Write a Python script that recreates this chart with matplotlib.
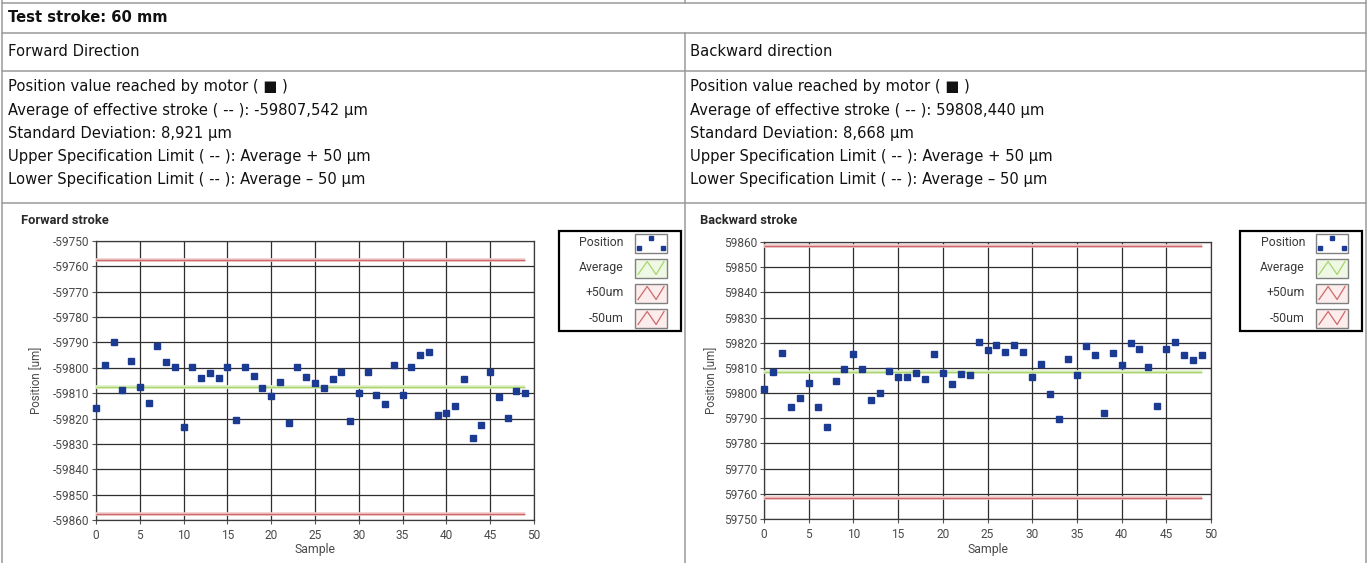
import matplotlib.pyplot as plt
from matplotlib.patches import Rectangle

plt.rcParams['axes.unicode_minus'] = False

# data
samples = list(range(50))
forward_pos = [-59816.0, -59798.8, -59790.0, -59808.6, -59797.2, -59807.7, -59813.9, -59791.3, -59797.7, -59799.5,
               -59823.2, -59799.5, -59804.0, -59802.1, -59804.2, -59799.5, -59820.5, -59799.7, -59803.3, -59807.8,
               -59811.3, -59805.4, -59821.9, -59799.7, -59803.8, -59806.0, -59807.8, -59804.6, -59801.6, -59820.8,
               -59809.9, -59801.6, -59810.6, -59814.4, -59798.9, -59810.7, -59799.5, -59794.9, -59793.9, -59818.5,
               -59817.9, -59815.2, -59804.6, -59827.5, -59822.6, -59801.6, -59811.7, -59819.6, -59809.1, -59809.9]
backward_pos = [59801.5, 59808.3, 59815.9, 59794.4, 59798.2, 59803.9, 59794.6, 59786.7, 59804.8, 59809.6,
                59815.7, 59809.6, 59797.3, 59799.9, 59808.9, 59806.2, 59806.2, 59807.9, 59805.6, 59815.5,
                59807.9, 59803.5, 59807.5, 59807.1, 59820.1, 59817.3, 59818.9, 59816.3, 59819.1, 59816.4,
                59806.2, 59811.6, 59799.8, 59789.9, 59813.6, 59807.0, 59818.7, 59815.0, 59792.0, 59816.0,
                59811.2, 59820.0, 59817.5, 59810.4, 59795.0, 59817.7, 59820.3, 59815.0, 59813.2, 59815.0]
forward_avg = -59807.542
backward_avg = 59808.440
spec_margin = 50
forward_yticks = list(range(-59860, -59749, 10))
backward_yticks = list(range(59750, 59861, 10))
xticks = list(range(0, 51, 5))

header = 'Test stroke: 60 mm'
col_titles = ['Forward Direction', 'Backward direction']
forward_lines = ['Position value reached by motor ( \u25a0 )',
                 'Average of effective stroke ( -- ): -59807,542 \u00b5m',
                 'Standard Deviation: 8,921 \u00b5m',
                 'Upper Specification Limit ( -- ): Average + 50 \u00b5m',
                 'Lower Specification Limit ( -- ): Average \u2013 50 \u00b5m']
backward_lines = ['Position value reached by motor ( \u25a0 )',
                  'Average of effective stroke ( -- ): 59808,440 \u00b5m',
                  'Standard Deviation: 8,668 \u00b5m',
                  'Upper Specification Limit ( -- ): Average + 50 \u00b5m',
                  'Lower Specification Limit ( -- ): Average \u2013 50 \u00b5m']
legend_labels = ['Position', 'Average', '+50um', '-50um']

W, H = 1368, 563
fig = plt.figure(figsize=(W / 100, H / 100), dpi=100)
bg = fig.add_axes([0, 0, 1, 1])
bg.set_xlim(0, W)
bg.set_ylim(H, 0)
bg.axis('off')

# table grid
bc = '#9a9a9a'
for y in [3, 33, 71, 203]:
    bg.plot([1.5, 1366], [y, y], color=bc, lw=1.1)
bg.plot([1.5, 1.5], [0, H], color=bc, lw=1.1)
bg.plot([1366, 1366], [0, H], color=bc, lw=1.1)
bg.plot([685, 685], [0, 3], color=bc, lw=1.1)
bg.plot([685, 685], [33, H], color=bc, lw=1.1)

tf = dict(family='DejaVu Sans', size=10.6, color='#111111', va='center')
bg.text(8, 18, header, weight='bold', **tf)
for cx, title, lines in [(8, col_titles[0], forward_lines), (690, col_titles[1], backward_lines)]:
    bg.text(cx, 52, title, **tf)
    for i, s in enumerate(lines):
        bg.text(cx, 87 + i * 23.2, s, **tf)

cf = 'Roboto'
red_lt, red_dk = '#f2cccc', '#cc6a6a'
grn_lt, grn_dk = '#e0f0c8', '#a9d46e'
blue = '#1b3a92'


def draw_chart(left, right, top, bottom, ylab_x, values, avg, yticks):
    ax = fig.add_axes([left / W, 1 - bottom / H, (right - left) / W, (bottom - top) / H])
    ax.set_xlim(xticks[0], xticks[-1])
    ax.set_ylim(yticks[0], yticks[-1])
    ax.set_xticks(xticks)
    ax.set_xticklabels([str(v) for v in xticks])
    ax.set_yticks(yticks)
    ax.set_yticklabels([str(v) for v in yticks])
    ax.grid(True, color='#2e2e2e', lw=0.9)
    ax.set_axisbelow(True)
    for s in ax.spines.values():
        s.set_color('#3a3a3a')
        s.set_linewidth(0.9)
    ax.tick_params(length=3, width=0.8, color='#555555', labelcolor='#4a4a4a', labelsize=8.6, pad=2)
    ax.tick_params(axis='x', pad=3.5)
    for lab in ax.get_xticklabels() + ax.get_yticklabels():
        lab.set_family(cf)
    xs = [samples[0], samples[-1]]
    for lvl, lt, dk in [(avg + spec_margin, red_lt, red_dk), (avg - spec_margin, red_lt, red_dk), (avg, grn_lt, grn_dk)]:
        ax.plot(xs, [lvl, lvl], color=lt, lw=2.6, solid_capstyle='butt', zorder=3)
        ax.plot(xs, [lvl, lvl], color=dk, lw=1.0, solid_capstyle='butt', zorder=3)
    ax.plot(samples, values, 's', ms=3.8, color=blue, mec=blue, zorder=5, clip_on=False)
    ax.set_xlabel('Sample', family=cf, size=8.8, color='#4a4a4a', va='center')
    ax.xaxis.set_label_coords(0.5, -(550 - bottom) / (bottom - top))
    ax.set_ylabel('Position [um]', family=cf, size=8.3, color='#4a4a4a', va='center')
    ax.yaxis.set_label_coords(-(left - ylab_x) / (right - left), 0.5)
    return ax


def draw_legend(x0, y0):
    bg.add_patch(Rectangle((x0, y0), 122, 100, fill=False, ec='black', lw=1.6, zorder=4))
    iw, ih = 32, 19
    for i, lab in enumerate(legend_labels):
        yc = y0 + 12 + i * 25
        bg.text(x0 + 65, yc, lab, family=cf, size=8.8, color='#3a3a3a', ha='right', va='center')
        ix, iy = x0 + 76, yc - ih / 2
        if i == 0:
            bg.add_patch(Rectangle((ix, iy), iw, ih, fc='white', ec='#808080', lw=1.0))
            bg.plot([ix + 4, ix + iw / 2, ix + iw - 4], [iy + ih - 5, iy + 4, iy + ih - 5], 's',
                    ms=3.0, color=blue)
        else:
            fc, lc = ('#eef8e4', grn_dk) if i == 1 else ('#fcecec', red_dk)
            bg.add_patch(Rectangle((ix, iy), iw, ih, fc=fc, ec='#808080', lw=1.0))
            bg.plot([ix + 3, ix + iw * 0.38, ix + iw * 0.66, ix + iw - 3],
                    [iy + ih - 3, iy + 3, iy + ih - 3, iy + 3], color=lc, lw=0.9)


draw_chart(96, 534, 241, 520, 37, forward_pos, forward_avg, forward_yticks)
draw_chart(764, 1211, 242, 519, 712, backward_pos, backward_avg, backward_yticks)
bg.text(21, 221, 'Forward stroke', family=cf, weight='bold', size=9.3, color='#2a2a2a', va='center')
bg.text(700, 221, 'Backward stroke', family=cf, weight='bold', size=9.3, color='#2a2a2a', va='center')
draw_legend(559, 231)
draw_legend(1240, 231)

fig.savefig('out.png', dpi=100)
